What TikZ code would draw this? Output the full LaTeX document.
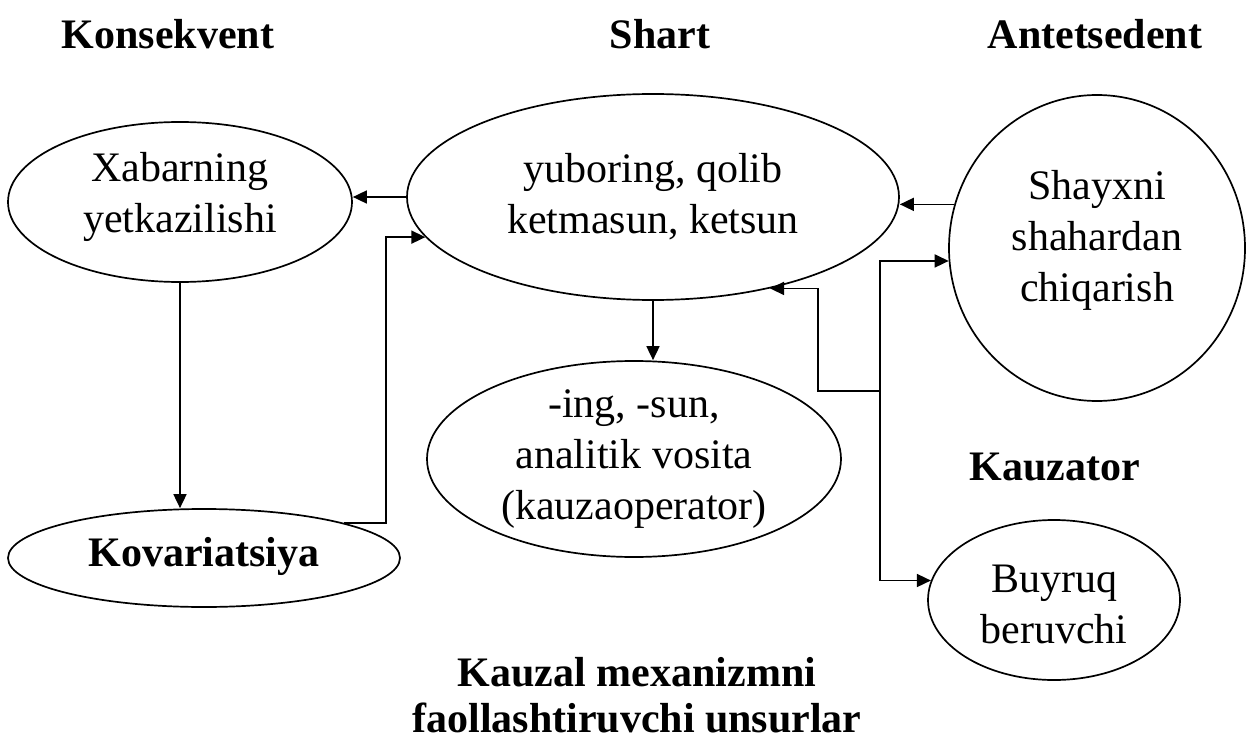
\documentclass[tikz,border=0pt]{standalone}
\usepackage{fontspec}
\setmainfont{Liberation Serif}
\usetikzlibrary{shapes.geometric,arrows.meta}
\begin{document}
\begin{tikzpicture}[x=1pt,y=-1pt,
  oval/.style={ellipse,draw,line width=1.7pt,inner sep=0pt},
  txt/.style={align=center,inner sep=0pt,font=\fontsize{42}{51}\selectfont},
  head/.style={align=center,inner sep=0pt,font=\fontsize{42}{46}\selectfont\bfseries},
  arr/.style={line width=1.7pt,-{Triangle[length=14pt,width=13pt]}}]
\useasboundingbox (0,0) rectangle (1255,738);

% headings
\node[head] (hkon) at (168,34) {Konsekvent};
\node[head] (hsha) at (660,34) {Shart};
\node[head] (hant) at (1095,34) {Antetsedent};
\node[head] (hkau) at (1055,467) {Kauzator};
\node[head] (hmex) at (637,695) {Kauzal mexanizmni\\faollashtiruvchi unsurlar};

% ellipses
\node[oval,minimum width=344pt,minimum height=160pt] (xab) at (180,202) {};
\node[oval,minimum width=492pt,minimum height=206pt] (sh) at (653,197) {};
\node[oval,minimum width=296pt,minimum height=306pt] (shay) at (1097,248) {};
\node[oval,minimum width=392pt,minimum height=98pt] (kov) at (204,558) {};
\node[oval,minimum width=414pt,minimum height=196pt] (ing) at (634,459) {};
\node[oval,minimum width=252pt,minimum height=160pt] (buy) at (1054,600) {};

% texts inside
\node[txt] (xabt) at (180,197) {Xabarning\\yetkazilishi};
\node[txt] (sht) at (653,197) {yuboring, qolib\\ketmasun, ketsun};
\node[txt] (shayt) at (1097,240) {Shayxni\\shahardan\\chiqarish};
\node[txt,font=\fontsize{42}{51}\selectfont\bfseries] (kovt) at (204,556) {Kovariatsiya};
\node[txt] (ingt) at (634,459) {-ing, -sun,\\analitik vosita\\(kauzaoperator)};
\node[txt] (buyt) at (1054,604) {Buyruq\\beruvchi};

% connectors
\draw[arr] (sh.west) -- (sh.west -| xab.east);
\draw[arr] (xab.south) -- (xab.south |- kov.north);
\draw[arr] (kov.14) -- ++(42,0) |- (sh.190);
\draw[arr] (sh.south) -- (sh.south |- ing.north);
\draw[arr] (shay.163) -- (shay.163 -| sh.east);
\coordinate (bus) at (880,391);
\draw[arr] (bus) |- (shay.185);
\draw[arr] (bus) |- (buy.171);
\draw[arr] (bus) -- ++(-62,0) |- (sh.-38.4);
\end{tikzpicture}
\end{document}
